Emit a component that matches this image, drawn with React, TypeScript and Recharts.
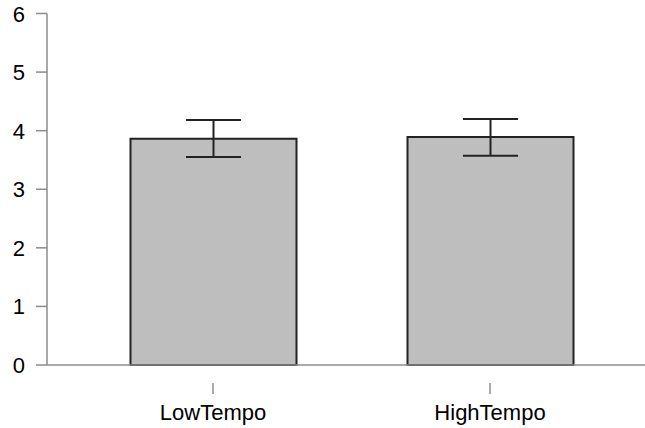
import React from 'react';
import { BarChart, Bar, XAxis, YAxis, ErrorBar } from 'recharts';

const categories = ['LowTempo', 'HighTempo'];
const means = [3.86, 3.89];
const lows = [3.55, 3.57];
const highs = [4.18, 4.2];
const yTicks = [0, 1, 2, 3, 4, 5, 6];

const data = categories.map((c, i) => ({
  name: c,
  value: means[i],
  err: [means[i] - lows[i], highs[i] - means[i]],
}));

const FONT = '"Liberation Sans", Arial, Helvetica, sans-serif';
const AXIS = '#8c8c8c';

const XTick = (props: any) => {
  const { x, payload } = props;
  return (
    <g>
      <line x1={x} x2={x} y1={383} y2={394} stroke="#555" strokeWidth={1} />
      <text x={x} y={420} textAnchor="middle" fontSize={22} fontFamily={FONT} fill="#000">
        {payload.value}
      </text>
    </g>
  );
};

const YTick = (props: any) => {
  const { y, payload } = props;
  return (
    <text x={25} y={y + 8} textAnchor="end" fontSize={22} fontFamily={FONT} fill="#000">
      {payload.value}
    </text>
  );
};

export default function App() {
  return (
    <div style={{ position: 'absolute', left: 0, top: 0, background: '#fff' }}>
      <BarChart
        width={645}
        height={428}
        data={data}
        margin={{ top: 13.5, right: 0, bottom: 0, left: 0 }}
      >
        <XAxis
          dataKey="name"
          height={63}
          padding={{ left: 27.5, right: 16.5 }}
          axisLine={{ stroke: AXIS, strokeWidth: 1.5 }}
          tickLine={false}
          tick={<XTick />}
          interval={0}
        />
        <YAxis
          width={47}
          domain={[0, 6]}
          ticks={yTicks}
          interval={0}
          axisLine={{ stroke: AXIS, strokeWidth: 1.5 }}
          tickLine={{ stroke: AXIS, strokeWidth: 1.5 }}
          tickSize={11}
          tick={<YTick />}
        />
        <Bar
          dataKey="value"
          fill="#bebebe"
          stroke="#222"
          strokeWidth={2}
          barSize={166}
          isAnimationActive={false}
        >
          <ErrorBar dataKey="err" width={27.5} stroke="#222" strokeWidth={2} direction="y" />
        </Bar>
      </BarChart>
    </div>
  );
}
